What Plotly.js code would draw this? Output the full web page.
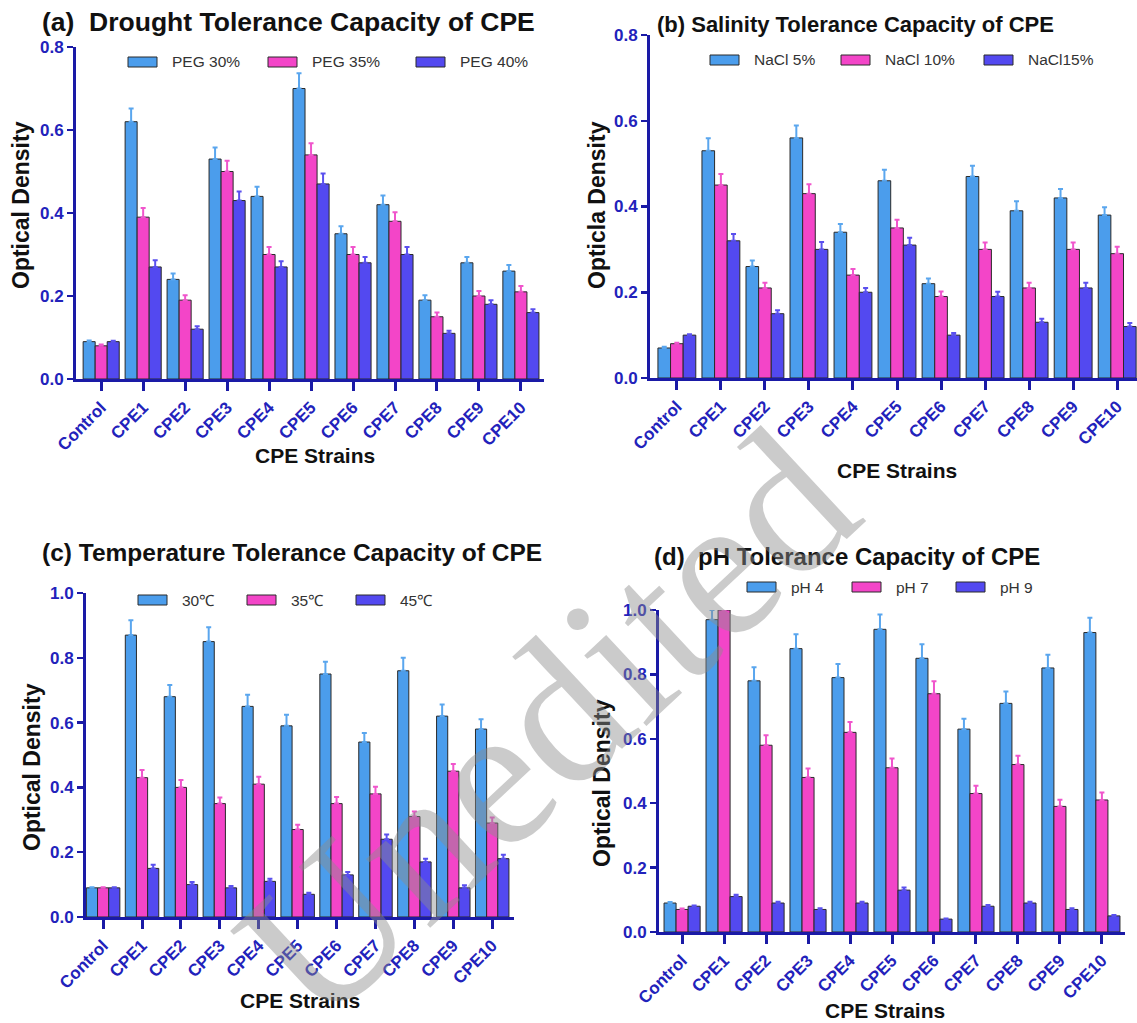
<!DOCTYPE html>
<html>
<head>
<meta charset="utf-8">
<script src="https://cdn.plot.ly/plotly-3.0.1.min.js"></script>
<style>html,body{margin:0;padding:0;background:#fff;}#chart{width:1137px;height:1023px;}</style>
</head>
<body>
<div id="chart"></div>
<script>
const strains = ["Control","CPE1","CPE2","CPE3","CPE4","CPE5","CPE6","CPE7","CPE8","CPE9","CPE10"];

// (a) Drought
const peg30 = [0.09,0.62,0.24,0.53,0.44,0.70,0.35,0.42,0.19,0.28,0.26];
const peg35 = [0.08,0.39,0.19,0.50,0.30,0.54,0.30,0.38,0.15,0.20,0.21];
const peg40 = [0.09,0.27,0.12,0.43,0.27,0.47,0.28,0.30,0.11,0.18,0.16];
const peg30Err = [0.003,0.032,0.014,0.028,0.023,0.037,0.018,0.022,0.012,0.014,0.015];
const peg35Err = [0.003,0.022,0.012,0.026,0.018,0.028,0.018,0.022,0.010,0.012,0.014];
const peg40Err = [0.002,0.016,0.007,0.022,0.014,0.025,0.014,0.018,0.006,0.010,0.008];

// (b) Salinity
const nacl5 = [0.07,0.53,0.26,0.56,0.34,0.46,0.22,0.47,0.39,0.42,0.38];
const nacl10 = [0.08,0.45,0.21,0.43,0.24,0.35,0.19,0.30,0.21,0.30,0.29];
const nacl15 = [0.10,0.32,0.15,0.30,0.20,0.31,0.10,0.19,0.13,0.21,0.12];
const nacl5Err = [0.003,0.029,0.014,0.029,0.019,0.026,0.012,0.025,0.022,0.021,0.018];
const nacl10Err = [0.002,0.026,0.012,0.022,0.014,0.019,0.012,0.016,0.012,0.016,0.016];
const nacl15Err = [0.002,0.016,0.008,0.017,0.010,0.017,0.005,0.011,0.008,0.012,0.008];

// (c) Temperature
const t30 = [0.09,0.87,0.68,0.85,0.65,0.59,0.75,0.54,0.76,0.62,0.58];
const t35 = [0.09,0.43,0.40,0.35,0.41,0.27,0.35,0.38,0.31,0.45,0.29];
const t45 = [0.09,0.15,0.10,0.09,0.11,0.07,0.13,0.24,0.17,0.09,0.18];
const t30Err = [0.002,0.046,0.036,0.044,0.036,0.034,0.038,0.028,0.040,0.036,0.030];
const t35Err = [0.002,0.024,0.023,0.019,0.023,0.015,0.020,0.022,0.016,0.022,0.017];
const t45Err = [0.002,0.011,0.008,0.006,0.008,0.005,0.009,0.015,0.010,0.008,0.012];

// (d) pH
const ph4 = [0.09,0.97,0.78,0.88,0.79,0.94,0.85,0.63,0.71,0.82,0.93];
const ph7 = [0.07,1.00,0.58,0.48,0.62,0.51,0.74,0.43,0.52,0.39,0.41];
const ph9 = [0.08,0.11,0.09,0.07,0.09,0.13,0.04,0.08,0.09,0.07,0.05];
const ph4Err = [0.003,0.030,0.042,0.045,0.042,0.046,0.044,0.032,0.037,0.041,0.046];
const ph7Err = [0.003,0.030,0.031,0.028,0.032,0.029,0.039,0.024,0.027,0.021,0.023];
const ph9Err = [0.002,0.006,0.004,0.004,0.004,0.008,0.002,0.004,0.004,0.004,0.003];

const legendA = ["PEG 30%","PEG 35%","PEG 40%"];
const legendB = ["NaCl 5%","NaCl 10%","NaCl15%"];
const legendC = ["30\u2103","35\u2103","45\u2103"];
const legendD = ["pH 4","pH 7","pH 9"];

const colors = ["#4B9DEC","#F345C8","#5349F0"];
const errColors = ["#5AA6EE","#F055CC","#5A50EE"];
const W = 1137, H = 1023;
const navy = "#1a1aa6";
const tickBlue = "#2222bb";
const FONT = "Liberation Sans, Arial, sans-serif";

function px(x){ return x / W; }
function py(y){ return 1 - y / H; }

const panels = [
  {sets:[peg30,peg35,peg40], errs:[peg30Err,peg35Err,peg40Err], names:legendA, xa:"x", ya:"y"},
  {sets:[nacl5,nacl10,nacl15], errs:[nacl5Err,nacl10Err,nacl15Err], names:legendB, xa:"x2", ya:"y2"},
  {sets:[t30,t35,t45], errs:[t30Err,t35Err,t45Err], names:legendC, xa:"x3", ya:"y3"},
  {sets:[ph4,ph7,ph9], errs:[ph4Err,ph7Err,ph9Err], names:legendD, xa:"x4", ya:"y4"}
];

const traces = [];
panels.forEach(p => {
  p.sets.forEach((vals, i) => {
    traces.push({
      type: "bar", x: strains, y: vals, name: p.names[i],
      xaxis: p.xa, yaxis: p.ya, showlegend: false,
      marker: {color: colors[i], line: {color: "#2a2a2a", width: 1}},
      error_y: {type: "data", array: p.errs[i], arrayminus: p.errs[i].map(() => 0), symmetric: false,
                color: errColors[i], thickness: 2, width: 2.5}
    });
  });
});

// axis geometry (pixel boxes)
const boxes = [
  {l:76, r:544, t:47, b:379, xr:[-0.6,10.55], yr:[0,0.8]},
  {l:650, r:1137, t:35, b:378, xr:[-0.61,10.45], yr:[0,0.8]},
  {l:86, r:514, t:593, b:917, xr:[-0.44,10.56], yr:[0,1.0]},
  {l:659, r:1125, t:610, b:932, xr:[-0.55,10.55], yr:[0,1.0]}
];

const layout = {
  width: W, height: H,
  margin: {l:0, r:0, t:0, b:0},
  paper_bgcolor: "#fff", plot_bgcolor: "#fff",
  barmode: "group", bargap: 0.14, bargroupgap: 0,
  font: {family: FONT},
  annotations: [], shapes: []
};

boxes.forEach((b, k) => {
  const sfx = k === 0 ? "" : String(k+1);
  layout["xaxis"+sfx] = {
    domain: [px(b.l), px(b.r)], range: b.xr, anchor: "y"+sfx,
    type: "category", showgrid: false, zeroline: false,
    showline: true, linecolor: navy, linewidth: 3,
    ticks: "outside", ticklen: 9, tickwidth: 3, tickcolor: navy,
    tickangle: -45, automargin: false,
    tickfont: {family: FONT, size: 17, color: tickBlue, weight: "bold"}
  };
  layout["yaxis"+sfx] = {
    domain: [py(b.b), py(b.t)], range: b.yr, anchor: "x"+sfx,
    showgrid: false, zeroline: false, dtick: 0.2, tickformat: ".1f",
    showline: true, linecolor: navy, linewidth: 3,
    ticks: "outside", ticklen: 6, tickwidth: 2.5, tickcolor: navy, automargin: false,
    tickfont: {family: FONT, size: 17, color: tickBlue, weight: "bold"}
  };
});

// axis titles
const xTitles = [
  {t:"CPE Strains", x:315, y:455},
  {t:"CPE Strains", x:897, y:470},
  {t:"CPE Strains", x:300, y:1000},
  {t:"CPE Strains", x:885, y:1010}
];
const yTitles = [
  {t:"Optical Density", x:21, y:205},
  {t:"Opticla Density", x:597, y:205},
  {t:"Optical Density", x:32, y:767},
  {t:"Optical Density", x:602, y:783}
];
xTitles.forEach(a => layout.annotations.push({
  xref:"paper", yref:"paper", x:px(a.x), y:py(a.y), xanchor:"center", yanchor:"middle",
  text:"<b>"+a.t+"</b>", showarrow:false, font:{family:FONT, size:21, color:"#111"}
}));
yTitles.forEach(a => layout.annotations.push({
  xref:"paper", yref:"paper", x:px(a.x), y:py(a.y), xanchor:"center", yanchor:"middle",
  text:"<b>"+a.t+"</b>", showarrow:false, textangle:-90, font:{family:FONT, size:23, color:"#111"}
}));

// panel titles
const titles = [
  {t:"(a)\u00a0 Drought Tolerance Capacity of CPE", x:40, y:22, s:26.5},
  {t:"(b)\u00a0Salinity Tolerance Capacity of CPE", x:655, y:25, s:22},
  {t:"(c)\u00a0Temperature Tolerance Capacity of CPE", x:40, y:552, s:24.5},
  {t:"(d)\u00a0 pH Tolerance Capacity of CPE", x:652, y:556, s:24}
];
titles.forEach(tt => {
  layout.annotations.push({
    xref: "paper", yref: "paper", x: px(tt.x), y: py(tt.y), xanchor: "left", yanchor: "middle",
    text: "<b>" + tt.t + "</b>", showarrow: false,
    font: {family: FONT, size: tt.s, color: "#111"}
  });
});

// manual legends (swatch rectangles + labels)
const legends = [
  {names: legendA, y: 62, xs: [128, 268, 416]},
  {names: legendB, y: 60, xs: [710, 841, 984]},
  {names: legendC, y: 600, xs: [138, 247, 356]},
  {names: legendD, y: 587, xs: [747, 852, 956]}
];
legends.forEach(lg => {
  lg.names.forEach((nm, i) => {
    const x0 = lg.xs[i];
    layout.shapes.push({
      type: "rect", xref: "paper", yref: "paper",
      x0: px(x0), x1: px(x0 + 29), y0: py(lg.y + 5), y1: py(lg.y - 5),
      fillcolor: colors[i], line: {color: "#2a2a2a", width: 1}
    });
    layout.annotations.push({
      xref: "paper", yref: "paper", x: px(x0 + 42), y: py(lg.y), xanchor: "left", yanchor: "middle",
      text: nm, showarrow: false,
      font: {family: FONT, size: 15.5, color: "#333"}
    });
  });
});

// watermark
layout.annotations.push({
  xref: "paper", yref: "paper", x: px(545), y: py(725), xanchor: "center", yanchor: "middle",
  text: "Unedited", showarrow: false, textangle: -43,
  font: {family: "Liberation Serif, Times New Roman, serif", size: 205, color: "rgba(140,140,140,0.45)"}
});

Plotly.newPlot("chart", traces, layout, {staticPlot: true, displayModeBar: false});
</script>
</body>
</html>
